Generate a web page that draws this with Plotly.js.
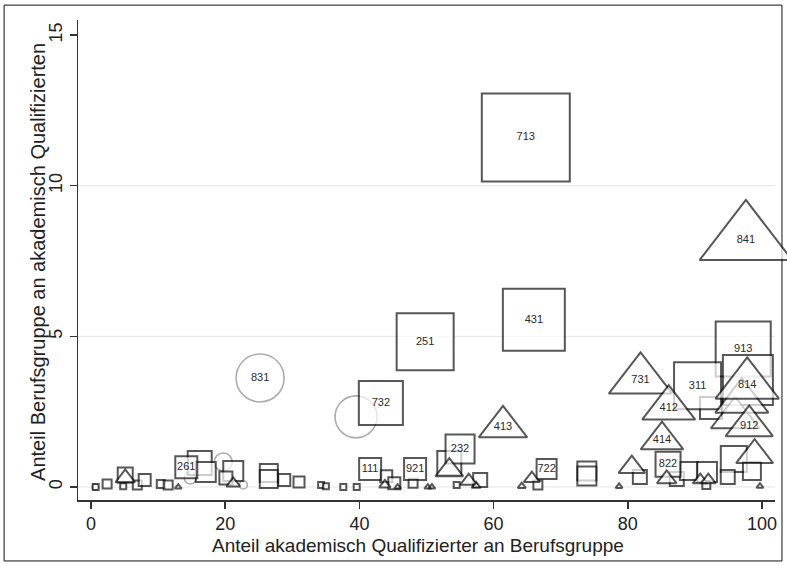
<!DOCTYPE html>
<html>
<head>
<meta charset="utf-8">
<script src="https://cdn.plot.ly/plotly-3.0.1.min.js"></script>
<style>html,body{margin:0;padding:0;background:#fff;}#chart{width:787px;height:566px;}</style>
</head>
<body>
<div id="chart"></div>
<script>
// ---- Data: Berufsgruppen (KldB codes) ----
// x = Anteil akademisch Qualifizierter an Berufsgruppe (%)
// y = Anteil Berufsgruppe an akademisch Qualifizierten (%)
// w = Gewicht (Beschäftigte, relative Einheit) -> Markerfläche

// Gruppe A (Quadrate)
const quadX = [97.2, 97.9, 92.4, 90.4, 53.4, 55.0, 64.8, 49.8, 66.0, 43.2,
  16.2, 17.1, 21.2, 20.1, 26.5, 26.5, 28.8, 31.0, 34.3, 35.0, 37.6, 39.6,
  2.4, 0.7, 5.1, 4.8, 6.9, 8.0, 10.4, 11.5, 44.0, 45.2, 48.0, 54.5, 58.0,
  66.6, 73.9, 73.9, 81.8, 87.3, 89.1, 91.8, 95.8, 94.9, 98.5, 91.7,
  14.2, 41.6, 48.3, 67.9, 86.0];
const quadY = [4.58, 3.55, 2.62, 3.36, 0.80, 1.26, 11.6, 4.82, 5.55, 2.79,
  0.80, 0.50, 0.53, 0.30, 0.47, 0.27, 0.23, 0.17, 0.07, 0.03, 0.00, 0.00,
  0.10, 0.00, 0.40, 0.03, 0.07, 0.23, 0.10, 0.07, 0.36, 0.13, 0.13, 0.07, 0.23,
  0.07, 0.53, 0.37, 0.33, 0.27, 0.53, 0.50, 0.93, 0.33, 0.53, 0.07,
  0.66, 0.60, 0.60, 0.60, 0.76];
const quadW = [30.3, 25.0, 4.84, 22.1, 5.76, 8.41, 77.4, 32.5, 38.4, 19.4,
  5.76, 4.0, 4.0, 1.69, 3.24, 3.24, 1.44, 1.21, 0.36, 0.25, 0.25, 0.25,
  0.81, 0.25, 2.25, 0.25, 0.81, 1.44, 0.64, 0.81, 1.44, 1.44, 0.81, 0.36, 1.96,
  0.81, 3.61, 3.61, 1.96, 1.96, 3.24, 4.0, 6.76, 1.96, 3.24, 0.64,
  4.84, 4.84, 4.84, 4.0, 6.25];
const quadLabel = ["913", "", "", "311", "", "232", "713", "251", "431", "732",
  "", "", "", "", "", "", "", "", "", "", "", "",
  "", "", "", "", "", "", "", "", "", "", "", "", "",
  "", "", "", "", "", "", "", "", "", "", "",
  "261", "111", "921", "722", "822"];

// Gruppe B (Dreiecke)
const dreiX = [96.0, 97.0, 97.8, 98.1, 97.6, 81.9, 86.1, 85.1, 61.4, 98.9,
  80.6, 85.8, 90.8, 92.0, 99.7, 78.7, 5.1, 21.2, 43.8, 53.4, 56.3, 57.4,
  64.2, 65.7, 45.7, 50.2, 50.8, 13.0];
const dreiY = [2.30, 2.85, 3.39, 2.03, 8.2, 3.56, 2.62, 1.56, 2.00, 1.06,
  0.66, 0.27, 0.23, 0.23, 0.03, 0.02, 0.30, 0.12, 0.07, 0.56, 0.20, 0.04,
  0.03, 0.28, 0.00, 0.00, 0.00, 0.00];
const dreiW = [17.64, 21.16, 30.25, 16.81, 64.0, 30.25, 21.16, 13.69, 17.64, 10.24,
  5.29, 2.89, 1.69, 1.69, 0.36, 0.25, 2.89, 1.44, 1.0, 5.76, 2.25, 0.64,
  0.49, 1.96, 0.25, 0.25, 0.25, 0.25];
const dreiLabel = ["", "", "814", "912", "841", "731", "412", "414", "413", "",
  "", "", "", "", "", "", "", "", "", "", "", "",
  "", "", "", "", "", ""];

// Gruppe C (Kreise)
const kreisX = [25.2, 39.5, 19.7, 14.8, 22.7, 0.6];
const kreisY = [3.62, 2.33, 0.83, 0.30, 0.07, 0.00];
const kreisW = [23.04, 17.64, 3.24, 1.44, 0.64, 0.36];
const kreisLabel = ["831", "", "", "", "", ""];

const xTicks = [0, 20, 40, 60, 80, 100];
const yTicks = [0, 5, 10, 15];
const xTitle = "Anteil akademisch Qualifizierter an Berufsgruppe";
const yTitle = "Anteil Berufsgruppe an akademisch Qualifizierten";

// ---- Styling ----
const FONT = "Liberation Sans, Arial, Helvetica, sans-serif";
const SIZEREF = 0.02;
function trace(x, y, w, lab, symbol, lineColor, lw) {
  return {
    type: "scatter", mode: "markers+text", x: x, y: y, text: lab,
    textposition: "middle center",
    textfont: {family: FONT, size: 11, color: "#2a2a2a"},
    marker: {symbol: symbol, size: w, sizemode: "area", sizeref: SIZEREF, sizemin: 3,
      color: "#ffffff", line: {color: lineColor, width: lw}},
    showlegend: false, hoverinfo: "skip", cliponaxis: false
  };
}
const data = [
  trace(kreisX, kreisY, kreisW, kreisLabel, "circle", "#8a8a8a", 1.6),
  trace(quadX, quadY, quadW, quadLabel, "square", "#111111", 2),
  trace(dreiX, dreiY, dreiW, dreiLabel, "triangle-up", "#111111", 2)
];

const gridShapes = [0, 5, 10].map(v => ({
  type: "line", xref: "paper", yref: "y", x0: 0, x1: 1, y0: v, y1: v,
  line: {color: "#e4e4e4", width: 1}, layer: "below"
}));
gridShapes.push({type: "rect", xref: "paper", yref: "paper",
  x0: -0.106, x1: 1.010, y0: -0.127, y1: 1.031,
  line: {color: "#111", width: 1}, fillcolor: "rgba(0,0,0,0)", layer: "below"});

const axisCommon = {
  ticks: "outside", ticklen: 7, tickwidth: 1.5, tickcolor: "#333",
  showline: true, linecolor: "#333", linewidth: 1.5,
  showgrid: false, zeroline: false,
  tickfont: {family: FONT, size: 18, color: "#222"}
};
const layout = {
  width: 787, height: 566,
  margin: {l: 78, r: 12, t: 20, b: 66, pad: 0},
  paper_bgcolor: "#fff", plot_bgcolor: "#fff",
  font: {family: FONT},
  xaxis: Object.assign({}, axisCommon, {
    range: [-1.94, 101.94], tickmode: "array", tickvals: xTicks
  }),
  yaxis: Object.assign({}, axisCommon, {
    range: [-0.43, 15.5], tickmode: "array", tickvals: yTicks, tickangle: -90
  }),
  annotations: [{
    text: yTitle, xref: "paper", yref: "paper", x: -0.0574, y: 0.496,
    xanchor: "center", yanchor: "middle", textangle: -90, showarrow: false,
    font: {family: FONT, size: 20, color: "#222"}
  }, {
    text: xTitle, xref: "paper", yref: "paper", x: 0.488, y: -0.094,
    xanchor: "center", yanchor: "middle", showarrow: false,
    font: {family: FONT, size: 19, color: "#222"}
  }],
  shapes: gridShapes
};
Plotly.newPlot("chart", data, layout, {displayModeBar: false, staticPlot: true});
</script>
</body>
</html>
